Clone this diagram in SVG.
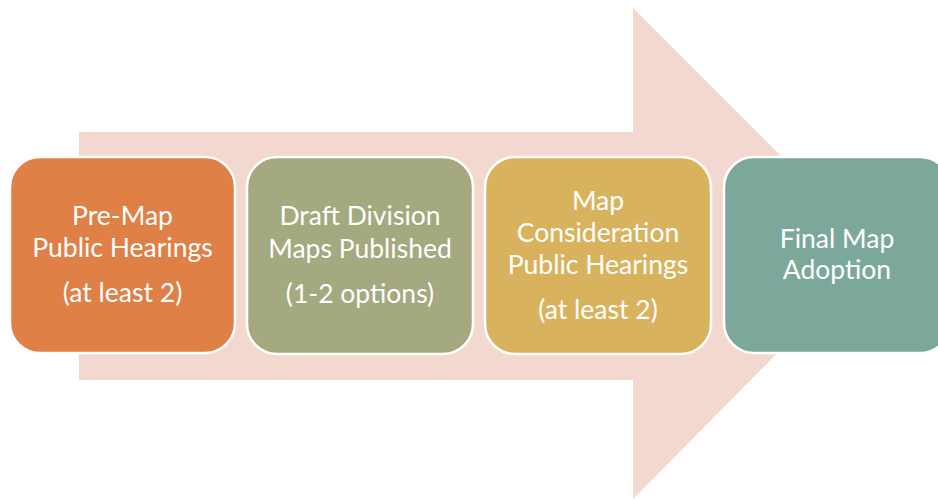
<svg xmlns="http://www.w3.org/2000/svg" width="938" height="500" viewBox="0 0 938 500">
<style>
.box{stroke:#fff;stroke-width:2.5}
.t{font-family:Lato,"Open Sans","Liberation Sans",sans-serif;font-size:26.5px;fill:#fff;text-anchor:middle}
</style>
<rect width="938" height="500" fill="#fff"/>
<g id="arrow">
<polygon points="79,132 633,132 633,8 877,252 633,499 633,380 79,380" fill="#F3D8CF"/>
</g>
<g id="n1">
<rect class="box" x="10" y="157" width="225" height="196" rx="30" fill="#DF8046"/>
<text class="t" x="122.5" y="225">Pre-Map</text>
<text class="t" x="122.5" y="257">Public Hearings</text>
<text class="t" x="122.5" y="302">(at least 2)</text>
</g>
<g id="n2">
<rect class="box" x="247" y="157" width="226" height="197" rx="30" fill="#A4A980"/>
<text class="t" x="360" y="225">Draft Division</text>
<text class="t" x="360" y="258">Maps Published</text>
<text class="t" x="360" y="303">(1-2 options)</text>
</g>
<g id="n3">
<rect class="box" x="485" y="157" width="226" height="197" rx="30" fill="#D9B25E"/>
<text class="t" x="598" y="210">Map</text>
<text class="t" x="598" y="242">Consideration</text>
<text class="t" x="598" y="274">Public Hearings</text>
<text class="t" x="598" y="319">(at least 2)</text>
</g>
<g id="n4">
<rect class="box" x="724" y="157" width="226" height="196" rx="30" fill="#7CA89C"/>
<text class="t" x="837" y="248">Final Map</text>
<text class="t" x="837" y="279">Adoption</text>
</g>
</svg>
